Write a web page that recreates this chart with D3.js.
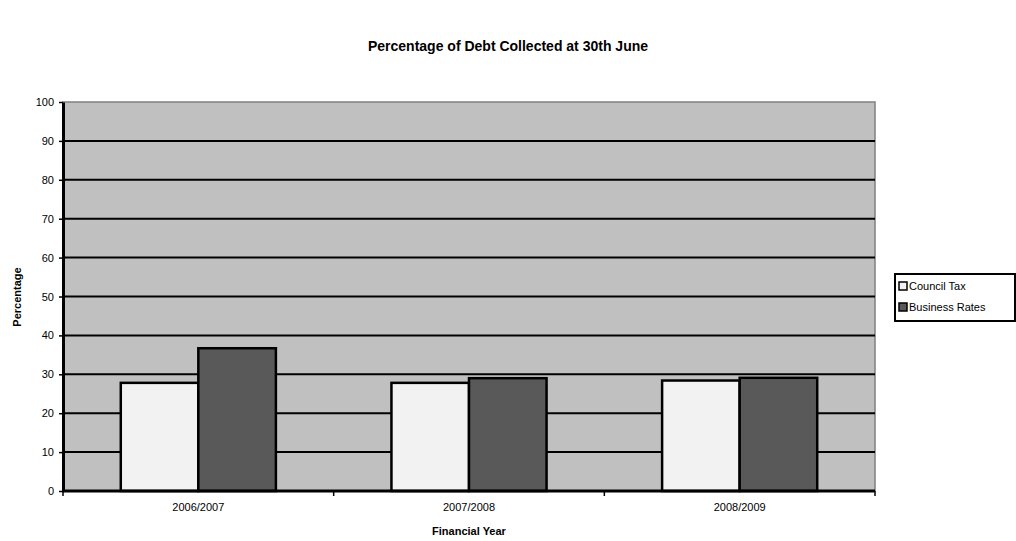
<!DOCTYPE html>
<html>
<head>
<meta charset="utf-8">
<script src="https://cdn.jsdelivr.net/npm/d3@7"></script>
<style>
  body { margin: 0; background: #fff; }
  svg { display: block; font-family: "Liberation Sans", Arial, sans-serif; }
</style>
</head>
<body>
<svg id="chart" width="1016" height="541"></svg>
<script>
// Percentage of debt collected by 30th June, per financial year
const years = ["2006/2007", "2007/2008", "2008/2009"];
const seriesNames = ["Council Tax", "Business Rates"];
const councilTax = [27.8, 27.8, 28.4];
const businessRates = [36.7, 29.0, 29.1];
const yTicks = [0, 10, 20, 30, 40, 50, 60, 70, 80, 90, 100];

const colors = { "Council Tax": "#f2f2f2", "Business Rates": "#595959" };

const svg = d3.select("#chart");
const plot = { left: 63, right: 875, top: 102, bottom: 491 };

const x = d3.scaleBand().domain(years).range([plot.left, plot.right]).paddingInner(0).paddingOuter(0);
const x1 = d3.scaleBand().domain(seriesNames).range([0, x.bandwidth()]).paddingInner(0).paddingOuter(0.745);
const y = d3.scaleLinear().domain([0, 100]).range([plot.bottom, plot.top]);

// Plot background
svg.append("rect")
  .attr("x", plot.left).attr("y", plot.top)
  .attr("width", plot.right - plot.left).attr("height", plot.bottom - plot.top)
  .attr("fill", "#c0c0c0").attr("stroke", "#808080").attr("stroke-width", 1.5);

// Horizontal gridlines
svg.append("g").selectAll("line")
  .data(yTicks.filter(d => d > 0 && d < 100))
  .join("line")
  .attr("x1", plot.left).attr("x2", plot.right)
  .attr("y1", d => y(d)).attr("y2", d => y(d))
  .attr("stroke", "#000").attr("stroke-width", 2);

// Bars
const rows = years.map((yr, i) => ({ year: yr, values: [
  { name: "Council Tax", value: councilTax[i] },
  { name: "Business Rates", value: businessRates[i] }
]}));

svg.append("g").selectAll("g")
  .data(rows)
  .join("g")
  .attr("transform", d => `translate(${x(d.year)},0)`)
  .selectAll("rect")
  .data(d => d.values)
  .join("rect")
  .attr("x", d => x1(d.name))
  .attr("y", d => y(d.value))
  .attr("width", x1.bandwidth())
  .attr("height", d => y(0) - y(d.value))
  .attr("fill", d => colors[d.name])
  .attr("stroke", "#000").attr("stroke-width", 2.5);

// Y axis
const yAxis = svg.append("g")
  .attr("transform", `translate(${plot.left},0)`)
  .call(d3.axisLeft(y).tickValues(yTicks).tickSize(4).tickSizeOuter(0).tickPadding(5));
yAxis.select(".domain").attr("stroke", "#000").attr("stroke-width", 3);
yAxis.selectAll(".tick line").attr("stroke", "#000").attr("stroke-width", 1.5);
yAxis.selectAll("text").attr("font-size", 11).attr("fill", "#000")
  .attr("font-family", "Liberation Sans, Arial, sans-serif");

// X axis: ticks at category boundaries, labels centred under each group
const xAxisG = svg.append("g").attr("transform", `translate(0,${plot.bottom})`);
xAxisG.append("line")
  .attr("x1", plot.left - 1).attr("x2", plot.right)
  .attr("stroke", "#000").attr("stroke-width", 3);
const boundaries = years.map(d => x(d)).concat([x(years[years.length - 1]) + x.bandwidth()]);
xAxisG.selectAll("line.tk")
  .data(boundaries)
  .join("line").attr("class", "tk")
  .attr("x1", d => d).attr("x2", d => d)
  .attr("y1", 0).attr("y2", 5)
  .attr("stroke", "#000").attr("stroke-width", 1.5);
xAxisG.selectAll("text")
  .data(years)
  .join("text")
  .attr("x", d => x(d) + x.bandwidth() / 2)
  .attr("y", 20)
  .attr("text-anchor", "middle")
  .attr("font-size", 11)
  .text(d => d);

// Titles
svg.append("text")
  .attr("x", 508).attr("y", 51)
  .attr("text-anchor", "middle")
  .attr("font-size", 14).attr("font-weight", "bold")
  .text("Percentage of Debt Collected at 30th June");

svg.append("text")
  .attr("x", 469).attr("y", 535)
  .attr("text-anchor", "middle")
  .attr("font-size", 11).attr("font-weight", "bold")
  .text("Financial Year");

svg.append("text")
  .attr("transform", "translate(21,297) rotate(-90)")
  .attr("text-anchor", "middle")
  .attr("font-size", 11).attr("font-weight", "bold")
  .text("Percentage");

// Legend
const legend = svg.append("g").attr("transform", "translate(895,274)");
legend.append("rect")
  .attr("x", 0).attr("y", 0).attr("width", 120).attr("height", 47)
  .attr("fill", "#fff").attr("stroke", "#000").attr("stroke-width", 2);
const items = legend.selectAll("g.item")
  .data(seriesNames)
  .join("g").attr("class", "item")
  .attr("transform", (d, i) => `translate(4,${8 + i * 21})`);
items.append("rect")
  .attr("width", 8).attr("height", 8)
  .attr("fill", d => colors[d]).attr("stroke", "#000").attr("stroke-width", 1.5);
items.append("text")
  .attr("x", 10).attr("y", 8)
  .attr("font-size", 11)
  .text(d => d);
</script>
</body>
</html>
